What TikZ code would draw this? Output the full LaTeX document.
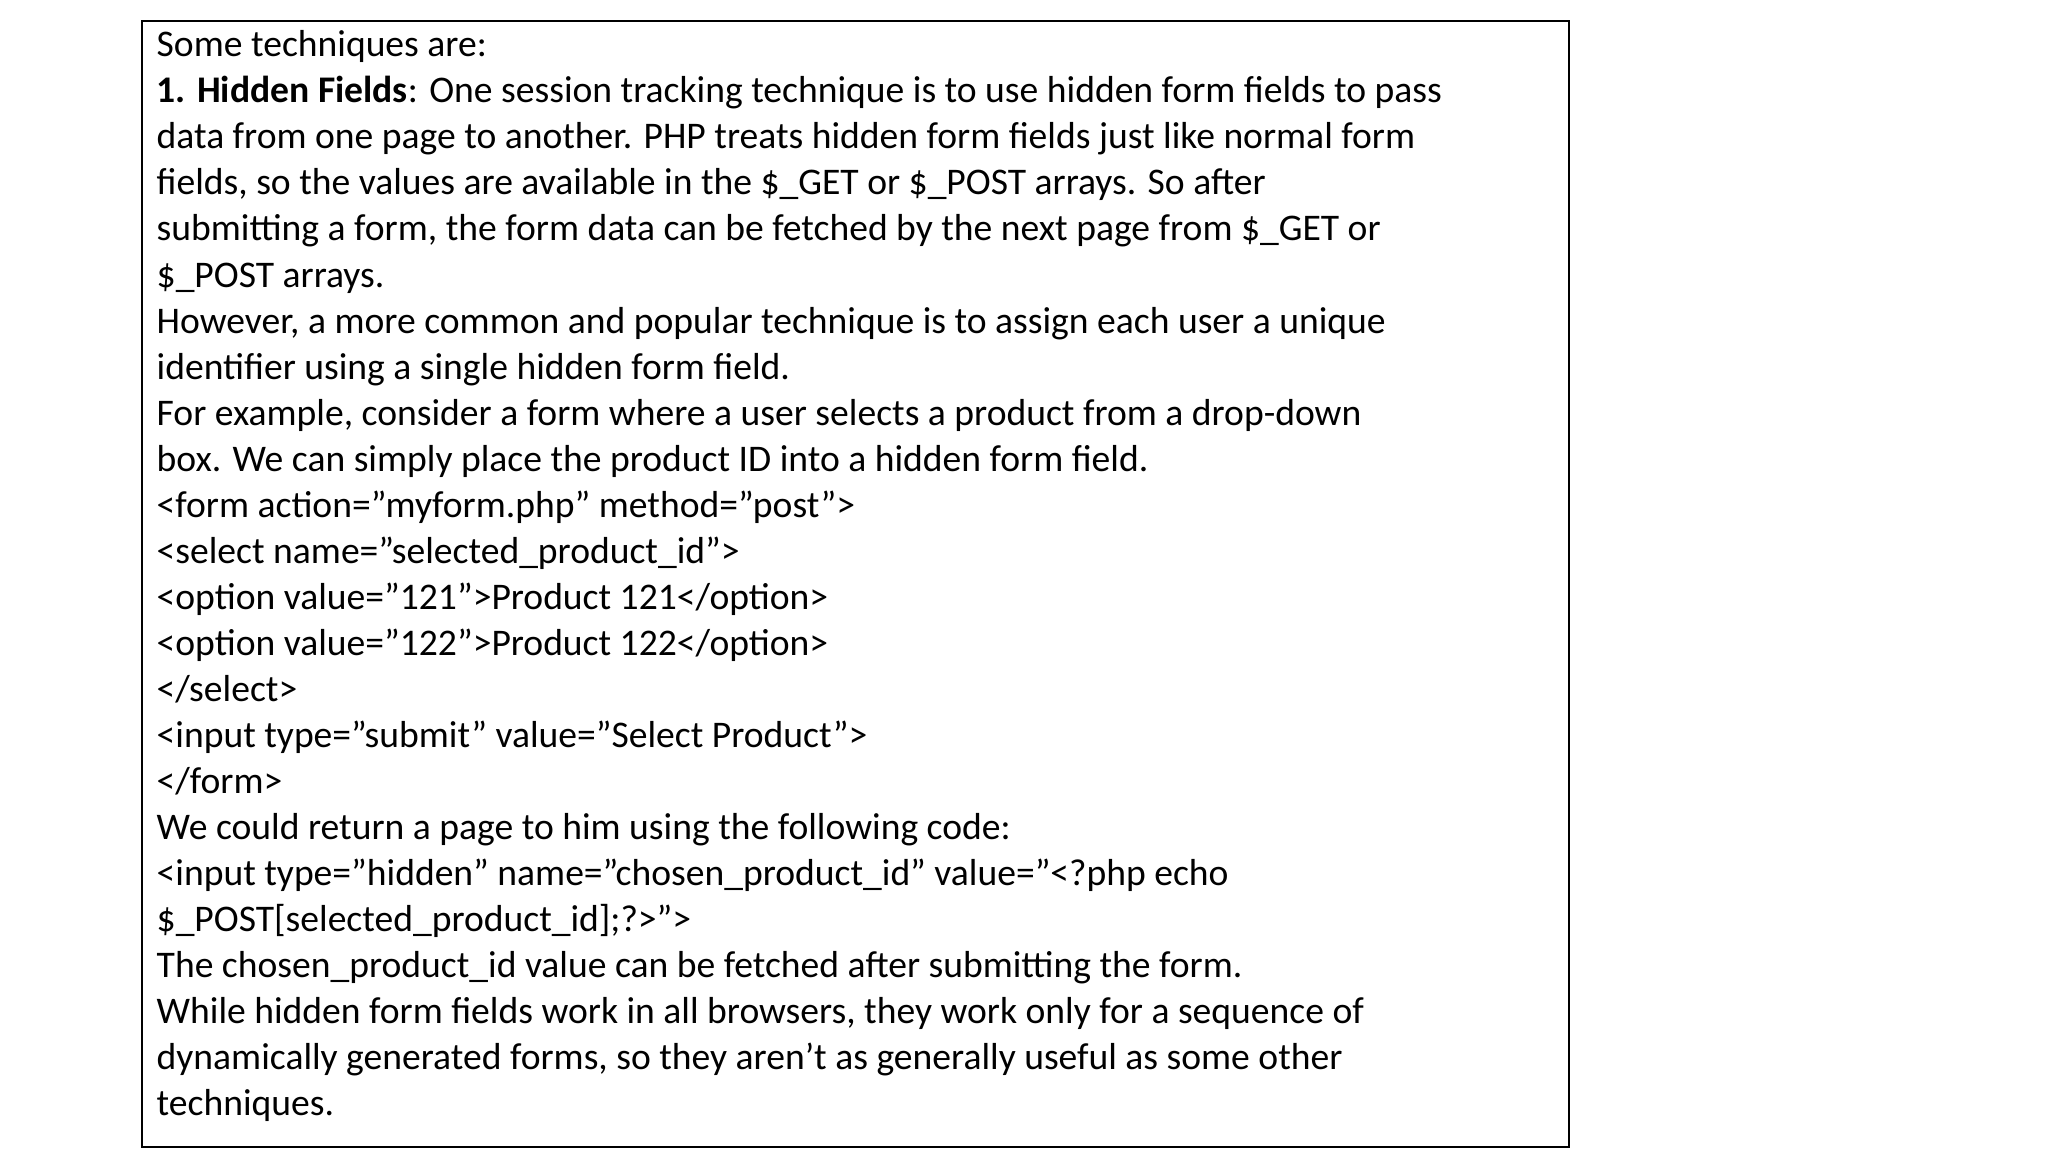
\documentclass[tikz,border=0pt]{standalone}
\usepackage{fontspec}
\setmainfont{Carlito}
\begin{document}
\begin{tikzpicture}[x=1cm,y=1cm]
\useasboundingbox (0,0) rectangle (20.48,11.52);
\node[draw=black,line width=0.6pt,minimum width=14.271cm,minimum height=11.263cm,anchor=north west,inner sep=0pt] (box) at (1.405,11.323) {};
\node[anchor=north west,inner sep=0pt,align=left,font=\fontsize{10.7pt}{13.1pt}\selectfont] (txt) at (1.56,11.22) {Some techniques are:\\
\textbf{1. Hidden Fields}: One session tracking technique is to use hidden form fields to pass\\
data from one page to another. PHP treats hidden form fields just like normal form\\
fields, so the values are available in the \$\_GET or \$\_POST arrays. So after\\
submitting a form, the form data can be fetched by the next page from \$\_GET or\\
\$\_POST arrays.\\
However, a more common and popular technique is to assign each user a unique\\
identifier using a single hidden form field.\\
For example, consider a form where a user selects a product from a drop-down\\
box. We can simply place the product ID into a hidden form field.\\
<form action=”myform.php” method=”post”>\\
<select name=”selected\_product\_id”>\\
<option value=”121”>Product 121</option>\\
<option value=”122”>Product 122</option>\\
</select>\\
<input type=”submit” value=”Select Product”>\\
</form>\\
We could return a page to him using the following code:\\
<input type=”hidden” name=”chosen\_product\_id” value=”<?php echo\\
\$\_POST[selected\_product\_id];?>”>\\
The chosen\_product\_id value can be fetched after submitting the form.\\
While hidden form fields work in all browsers, they work only for a sequence of\\
dynamically generated forms, so they aren't as generally useful as some other\\
techniques.};
\end{tikzpicture}
\end{document}
